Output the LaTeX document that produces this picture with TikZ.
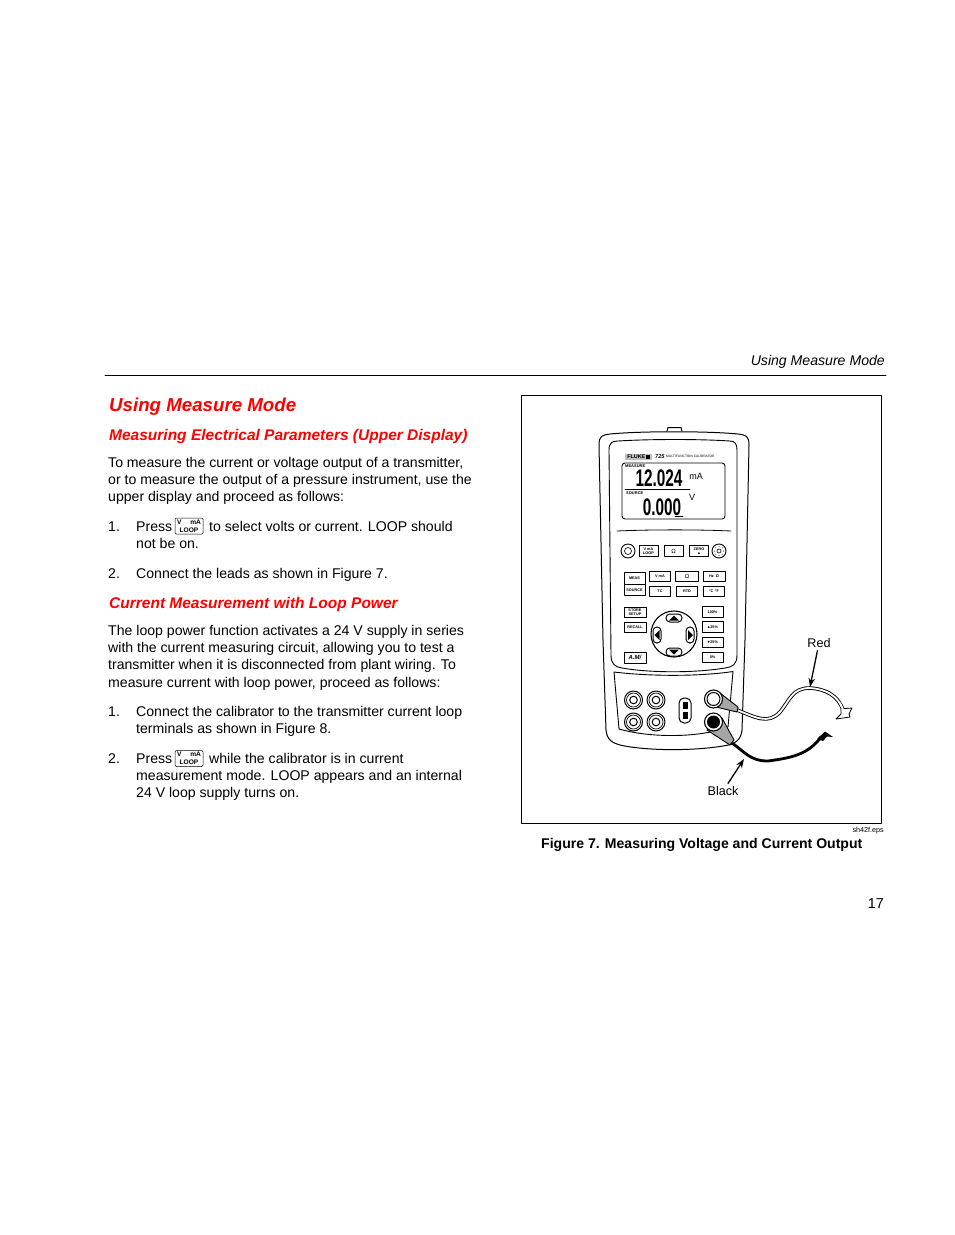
\documentclass[tikz,border=0pt]{standalone}
\usepackage{amssymb}
\usepackage{fontspec}
\setmainfont{Liberation Sans}
\usetikzlibrary{arrows.meta}
\definecolor{headred}{HTML}{FF0000}
\tikzset{
  txt/.style={anchor=base west, inner sep=0pt, font=\fontsize{14.1}{17}\selectfont},
  headtxt/.style={anchor=base west, inner sep=0pt, text=headred, font=\fontsize{#1}{#1}\selectfont\bfseries\itshape},
  keycap/.style={draw, rounded corners=1.2pt, line width=0.5pt, inner sep=0pt, minimum width=28pt, minimum height=16pt, align=center, font=\fontsize{6.6}{7.6}\selectfont\bfseries},
  btn/.style={draw, line width=0.9pt, inner sep=0pt, align=center, font=\fontsize{3.8}{4}\selectfont\bfseries},
  tiny/.style={inner sep=0pt, font=\fontsize{4}{4}\selectfont\bfseries},
  lcd/.style={inner sep=0pt, xscale=0.64, font=\fontsize{24}{24}\selectfont},
  lbl/.style={inner sep=0pt, outer sep=3pt, font=\fontsize{12.6}{14}\selectfont},
  tipped/.style={-{Stealth[length=9pt,width=6.5pt]}, line width=1.3pt},
}
\begin{document}
\begin{tikzpicture}[x=1pt, y=-1pt, line join=round, line cap=round, >=stealth]
\useasboundingbox (0,0) rectangle (954,1235);
% page furniture
\node[anchor=base east, inner sep=0pt, font=\fontsize{14.1}{17}\selectfont\itshape] (running) at (885,365) {Using Measure Mode};
\draw[line width=0.7pt] (105,375)--(886,375);
\node[anchor=base east, inner sep=0pt, font=\fontsize{14.4}{17}\selectfont] (pagenum) at (884,908) {17};
% left column
\node[headtxt=18.7] (head) at (109,411) {Using Measure Mode};
\node[headtxt=15.5] (subA) at (109,440) {Measuring Electrical Parameters (Upper Display)};
\node[txt] (a1) at (108,467) {To measure the current or voltage output of a transmitter,};
\node[txt] (a2) at (108,484) {or to measure the output of a pressure instrument, use the};
\node[txt] (a3) at (108,501) {upper display and proceed as follows:};
\node[txt] (n1) at (108,531) {1.};
\node[txt] (n1a) at (136,531) {Press};
\node[keycap] (keyA) at (189,526) {\makebox[24pt]{V\hfill mA}\\LOOP};
\node[txt] (n1b) at (209,531) {to select volts or current. LOOP should};
\node[txt] (n1c) at (136,548) {not be on.};
\node[txt] (n2) at (108,578) {2.};
\node[txt] (n2a) at (136,578) {Connect the leads as shown in Figure 7.};
\node[headtxt=15.5] (subB) at (109,608) {Current Measurement with Loop Power};
\node[txt] (b1) at (108,635) {The loop power function activates a 24 V supply in series};
\node[txt] (b2) at (108,652) {with the current measuring circuit, allowing you to test a};
\node[txt] (b3) at (108,669.5) {transmitter when it is disconnected from plant wiring. To};
\node[txt] (b4) at (108,687) {measure current with loop power, proceed as follows:};
\node[txt] (m1) at (108,716) {1.};
\node[txt] (m1a) at (136,716) {Connect the calibrator to the transmitter current loop};
\node[txt] (m1b) at (136,733) {terminals as shown in Figure 8.};
\node[txt] (m2) at (108,763) {2.};
\node[txt] (m2a) at (136,763) {Press};
\node[keycap] (keyB) at (189,758.5) {\makebox[24pt]{V\hfill mA}\\LOOP};
\node[txt] (m2b) at (209,763) {while the calibrator is in current};
\node[txt] (m2c) at (136,780) {measurement mode. LOOP appears and an internal};
\node[txt] (m2d) at (136,797) {24 V loop supply turns on.};
% figure frame
\draw[line width=0.7pt] (521.5,395.5) rectangle (881.5,823);
\node[anchor=base east, inner sep=0pt, font=\fontsize{7.2}{8}\selectfont] (eps) at (884,832) {sh42f.eps};
\node[anchor=base west, inner sep=0pt, font=\fontsize{14.05}{17}\selectfont\bfseries] (caption) at (541,848) {Figure 7. Measuring Voltage and Current Output};
% calibrator body
\draw[line width=1pt] (667,431)--(668,427.5)--(681,427.5)--(682,431);
\draw[line width=1pt] (599,445) .. controls (599,436) and (602,435) .. (610,434) .. controls (640,431) and (708,431) .. (738,434) .. controls (746,435) and (749,436) .. (749,445) -- (745,640) -- (742,730) .. controls (741,740) and (735,744) .. (726,745.5) .. controls (695,751) and (650,751) .. (622,745.5) .. controls (612,743) and (607,740) .. (606,730) -- (603,640) -- cycle;
\draw[line width=0.9pt] (609,450) .. controls (609,443) and (612,441) .. (618,441) .. controls (650,439) and (700,439) .. (730,441) .. controls (735,441) and (737,444) .. (737,450) -- (737,655) .. controls (737,665) and (732,667) .. (725,668) .. controls (695,673) and (650,673) .. (622,668) .. controls (615,667) and (611,664) .. (611,655) -- cycle;
\draw[line width=0.8pt] (617,531) .. controls (650,529.5) and (700,529.5) .. (731,531);
% display
\node[fill=black!25, inner sep=0pt, minimum width=27pt, minimum height=5.5pt, font=\fontsize{5.4}{5}\selectfont\bfseries] (logo) at (638.5,457) {FLUKE\,\rule{3.5pt}{3.5pt}};
\node[anchor=west, inner sep=0pt, font=\fontsize{5.6}{5}\selectfont\bfseries\itshape] (model) at (655,456.3) {725};
\node[anchor=west, inner sep=0pt, font=\fontsize{3.3}{4}\selectfont] (modelname) at (666,456.8) {MULTIFUNCTION CALIBRATOR};
\draw[line width=0.9pt, rounded corners=3pt] (622,463) rectangle (725,519);
\node[tiny, anchor=west] (mlabel) at (625,466.5) {MEASURE};
\node[lcd] (mvalue) at (659,478.5) {\bfseries 12.024};
\node[inner sep=0pt, font=\fontsize{9}{9}\selectfont] (munit) at (696,476) {mA};
\draw[line width=0.8pt] (625,489)--(690,489);
\node[tiny, anchor=west] (slabel) at (626,493.5) {SOURCE};
\node[lcd] (svalue) at (662,507) {\bfseries 0.000};
\node[inner sep=0pt, font=\fontsize{9}{9}\selectfont] (sunit) at (692,497) {V};
\draw[line width=0.9pt] (675,516.5)--(683,516.5);
% top row of keys
\draw[line width=0.9pt] (628,551) circle (7);
\draw[line width=0.6pt] (628,551) circle (3.5);
\draw[line width=0.9pt] (719,551) circle (7);
\draw[line width=0.6pt] (719,551) circle (2);
\foreach \a in {0,45,...,315}
  \fill (719,551)++(\a:4.5) circle (0.5);
\node[btn, minimum width=19pt, minimum height=11pt] (keyvma) at (648.5,551) {V\ mA\\LOOP};
\node[btn, minimum width=19pt, minimum height=11pt, font=\fontsize{6}{6}\selectfont] (keyohm) at (673.5,551) {Ω};
\node[btn, minimum width=19pt, minimum height=11pt] (keyzero) at (699,551) {ZERO\\$\blacktriangle$};
% middle block of keys
\node[btn, minimum width=21pt, minimum height=11.5pt] (keymeas) at (634.5,578.5) {MEAS};
\node[btn, minimum width=21pt, minimum height=11.5pt] (keysource) at (634.5,590) {SOURCE};
\node[btn, minimum width=21pt, minimum height=10pt] (keyva) at (660,576) {V\ mA};
\node[btn, minimum width=23pt, minimum height=10pt, font=\fontsize{6}{6}\selectfont] (keyloop) at (687,576) {Ω};
\node[btn, minimum width=22pt, minimum height=10pt] (keyhz) at (714,576) {Hz\ \ Ω};
\node[btn, minimum width=21pt, minimum height=10pt] (keytc) at (660,591.5) {TC};
\node[btn, minimum width=21pt, minimum height=10pt] (keyrtd) at (687,591.5) {RTD};
\node[btn, minimum width=21pt, minimum height=10pt] (keydeg) at (714,591.5) {°C\ \,°F};
% lower block of keys
\node[btn, minimum width=22pt, minimum height=10.5pt] (keystore) at (635,612.5) {STORE\\SETUP};
\node[btn, minimum width=22pt, minimum height=10.5pt] (keyrecall) at (635,627.5) {RECALL};
\node[btn, minimum width=22pt, minimum height=11pt, font=\fontsize{6}{6}\selectfont\bfseries\itshape] (keysweep) at (635,657.5) {A.M/};
\node[btn, minimum width=21pt, minimum height=10.5pt] (keyfull) at (712.5,612) {100\%};
\node[btn, minimum width=21pt, minimum height=10.5pt] (keyup) at (712.5,627) {$\blacktriangle$25\%};
\node[btn, minimum width=21pt, minimum height=10.5pt] (keydown) at (712.5,642.5) {$\blacktriangledown$25\%};
\node[btn, minimum width=21pt, minimum height=10.5pt] (keyzeropc) at (712.5,657.5) {0\%};
% arrow pad
\draw[line width=1.1pt] (674,634) circle (23);
\draw[line width=1pt, rounded corners=3.8pt] (666,614)--(682,614)--(682,622)--(666,622)--cycle;
\draw[line width=1pt, rounded corners=3.8pt] (666,648)--(682,648)--(682,656)--(666,656)--cycle;
\draw[line width=1pt, rounded corners=3.8pt] (653,627)--(661,627)--(661,643)--(653,643)--cycle;
\draw[line width=1pt, rounded corners=3.8pt] (686,627)--(694,627)--(694,643)--(686,643)--cycle;
\fill (669,620.5)--(679,620.5)--(674,615.5)--cycle;
\fill (669,649.5)--(679,649.5)--(674,654.5)--cycle;
\fill (659.5,630)--(659.5,640)--(654.5,635)--cycle;
\fill (688,630)--(688,640)--(693,635)--cycle;
% terminal panel
\draw[line width=0.9pt] (614,672) .. controls (650,676.5) and (700,676.5) .. (733,671.5) -- (728,727) .. controls (700,738) and (650,738) .. (619,729) -- cycle;
\foreach \x/\y in {633.5/700, 656/700, 633.5/722, 656/722}{
  \draw[line width=1pt] (\x,\y) circle (9);
  \draw[line width=0.7pt] (\x,\y) circle (7);
  \draw[line width=1pt] (\x,\y) circle (3.8);
}
\draw[line width=1pt, rounded corners=5pt] (679,698)--(691,698)--(691,723)--(679,723)--cycle;
\fill (682.5,702) rectangle (687.5,709);
\fill (682.5,712) rectangle (687.5,719);
% red lead
\draw[line width=3.6pt] (737,710) .. controls (755,717) and (768,725) .. (780,712) .. controls (790,700) and (792,688) .. (810,688) .. controls (825,689) and (838,695) .. (843,710);
\draw[white, line width=1.8pt] (737,710) .. controls (755,717) and (768,725) .. (780,712) .. controls (790,700) and (792,688) .. (810,688) .. controls (825,689) and (838,695) .. (843,710);
\draw[line width=0.8pt, fill=white] (841,708)--(845,708.5)--(852,708)--(849,714)--(850,717)--(836,719)--(841,714)--cycle;
\draw[white, line width=1.8pt] (840,703)--(843.5,711);
\draw[line width=0.9pt, fill=black!35] (718,691.5) -- (738,707) -- (737,712) -- (707.5,705) -- cycle;
\draw[line width=1.1pt, fill=white] (713.5,699) circle (9);
\draw[line width=1pt] (713.5,699) circle (6.5);
% black lead
\draw[line width=2.8pt] (732,743) .. controls (745,752) and (750,761) .. (768,761) .. controls (790,758) and (808,755) .. (821,737);
\fill (817,739)--(825,731.5)--(833,737)--(827,736.5)--(823,741)--cycle;
\draw[line width=0.9pt, fill=black!35] (722,718) -- (734,740) -- (730,745) -- (707,730) -- cycle;
\draw[line width=1.1pt, fill=white] (713.5,722) circle (9);
\fill (713.5,722) circle (6.5);
% callouts
\node[lbl] (lblred) at (819,643) {Red};
\node[lbl] (lblblack) at (723,791) {Black};
\coordinate (redtip) at (810,687);
\coordinate (blacktip) at (744,759);
\draw[tipped] (lblred) -- (redtip);
\draw[tipped] (lblblack) -- (blacktip);
\end{tikzpicture}
\end{document}
